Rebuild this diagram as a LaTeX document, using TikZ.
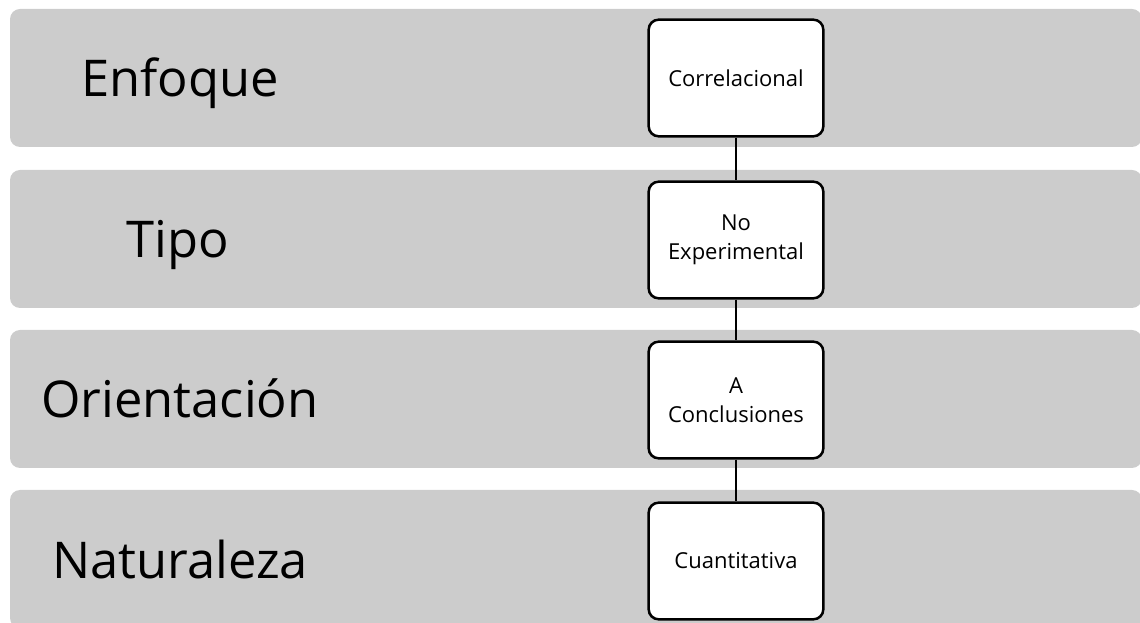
\documentclass[tikz,border=0pt]{standalone}
\usepackage{fontspec}
\setmainfont{Open Sans}
\begin{document}
\begin{tikzpicture}[x=0.75pt,y=-0.75pt,
  band/.style={fill=bandgray, draw=none, rounded corners=7.5pt,
    minimum width=849pt, minimum height=103.5pt, inner sep=0pt},
  bandlabel/.style={font=\fontsize{38}{46}\selectfont, text=black, anchor=base},
  stepbox/.style={draw=black, line width=1.9pt, fill=white, rounded corners=7.5pt,
    minimum width=131pt, minimum height=87.5pt, align=center,
    font=\fontsize{16.5}{21.5}\selectfont, inner sep=2pt},
  link/.style={draw=black, line width=1.9pt}]
\definecolor{bandgray}{HTML}{CCCCCC}
\useasboundingbox (0,0) rectangle (1140,623);
\clip (0,0) rectangle (1140,623);
% grey bands
\node[band] (b1) at (576,78) {};
\node[band] (b2) at (576,239) {};
\node[band] (b3) at (576,399) {};
\node[band] (b4) at (576,559) {};
% band labels
\node[bandlabel] (l1) at (180,97) {Enfoque};
\node[bandlabel] (l2) at (178,258) {Tipo};
\node[bandlabel] (l3) at (180,418) {Orientación};
\node[bandlabel] (l4) at (180,579) {Naturaleza};
% boxes on the vertical spine
\node[stepbox] (s1) at (736,78) {Correlacional};
\node[stepbox] (s2) at (736,240) {No\\Experimental};
\node[stepbox] (s3) at (736,400) {A\\Conclusiones};
\node[stepbox] (s4) at (736,561) {Cuantitativa};
\draw[link] (s1) -- (s2);
\draw[link] (s2) -- (s3);
\draw[link] (s3) -- (s4);
\end{tikzpicture}
\end{document}
